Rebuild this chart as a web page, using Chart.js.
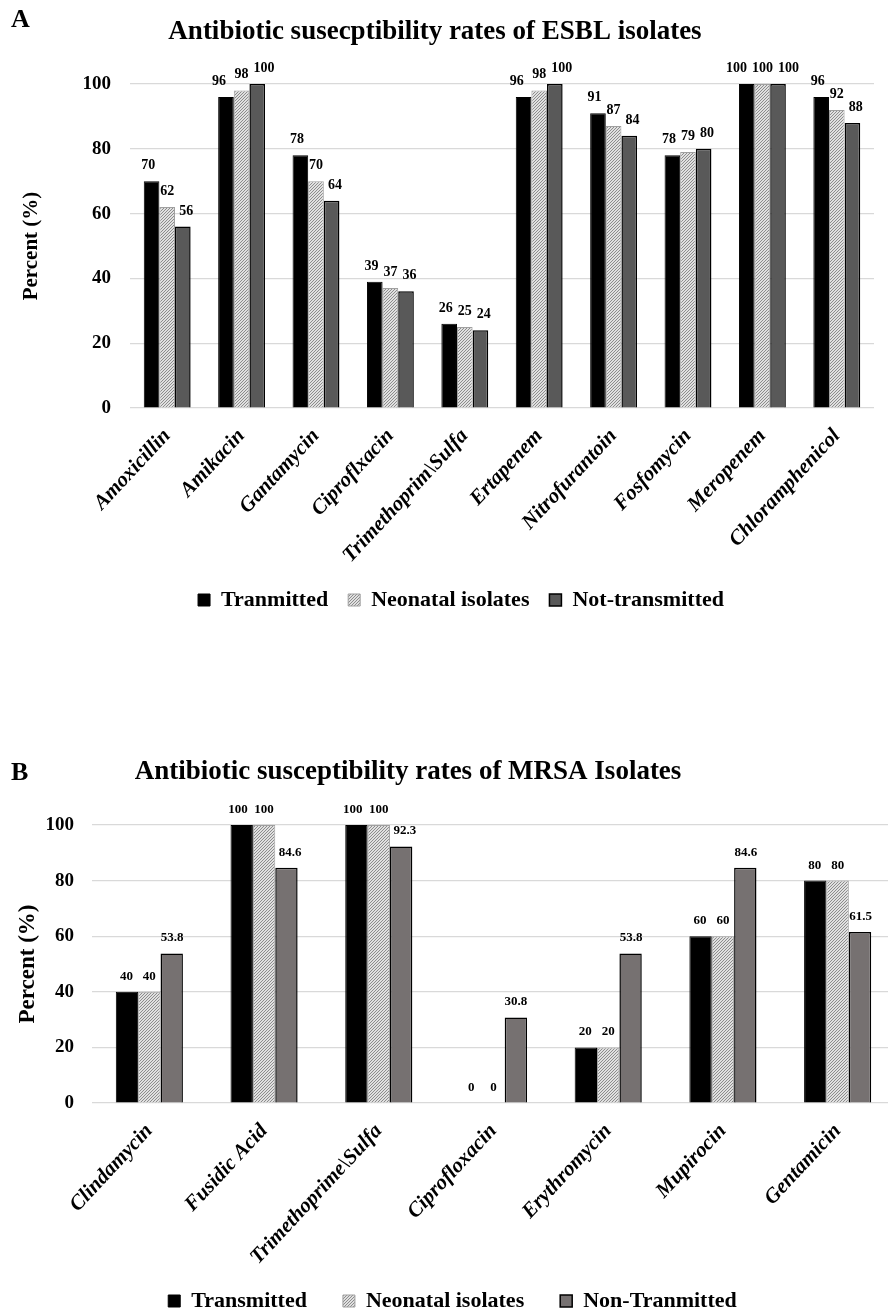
<!DOCTYPE html>
<html>
<head>
<meta charset="utf-8">
<script src="https://cdn.jsdelivr.net/npm/chart.js@4.4.1/dist/chart.umd.min.js"></script>
<style>
  html, body { margin: 0; padding: 0; background: #fff; overflow: hidden; width: 888px; height: 1314px; }
  canvas { position: absolute; left: 0; }
  #chartA { top: 0; }
  #chartB { top: 700px; }
</style>
</head>
<body>
<canvas id="chartA" width="888" height="625"></canvas>
<canvas id="chartB" width="896" height="630"></canvas>
<script>
// ---------- Panel A data ----------
const esblCategories = ['Amoxicillin', 'Amikacin', 'Gantamycin', 'Ciproflxacin', 'Trimethoprim\\Sulfa',
  'Ertapenem', 'Nitrofurantoin', 'Fosfomycin', 'Meropenem', 'Chloramphenicol'];
const esblTransmitted = [70, 96, 78, 39, 26, 96, 91, 78, 100, 96];
const esblNeonatal = [62, 98, 70, 37, 25, 98, 87, 79, 100, 92];
const esblNotTransmitted = [56, 100, 64, 36, 24, 100, 84, 80, 100, 88];
const esblSeriesNames = ['Tranmitted', 'Neonatal isolates', 'Not-transmitted'];

// ---------- Panel B data ----------
const mrsaCategories = ['Clindamycin', 'Fusidic Acid', 'Trimethoprime\\Sulfa', 'Ciprofloxacin',
  'Erythromycin', 'Mupirocin', 'Gentamicin'];
const mrsaTransmitted = [40, 100, 100, 0, 20, 60, 80];
const mrsaNeonatal = [40, 100, 100, 0, 20, 60, 80];
const mrsaNonTransmitted = [53.8, 84.6, 92.3, 30.8, 53.8, 84.6, 61.5];
const mrsaSeriesNames = ['Transmitted', 'Neonatal isolates', 'Non-Tranmitted'];

const yTicks = [0, 20, 40, 60, 80, 100];

const SERIF = '"Liberation Serif", "Times New Roman", serif';

function makeHatch(ctx) {
  const c = document.createElement('canvas');
  c.width = 3; c.height = 3;
  const x = c.getContext('2d');
  x.fillStyle = '#e0e0e0';
  x.fillRect(0, 0, 3, 3);
  x.fillStyle = '#8c8c8c';
  for (let i = 0; i < 3; i++) x.fillRect(2 - i, i, 1, 1);
  return ctx.createPattern(c, 'repeat');
}

// value labels above bars; labels of one category are spread apart if they would overlap
const valueLabels = {
  id: 'valueLabels',
  afterDatasetsDraw(chart, args, opts) {
    const ctx = chart.ctx;
    ctx.save();
    ctx.font = opts.font;
    ctx.fillStyle = '#000';
    ctx.textAlign = 'center';
    ctx.textBaseline = 'alphabetic';
    const nCat = chart.data.labels.length;
    const nDs = chart.data.datasets.length;
    for (let j = 0; j < nCat; j++) {
      const items = [];
      for (let i = 0; i < nDs; i++) {
        const bar = chart.getDatasetMeta(i).data[j];
        const txt = String(chart.data.datasets[i].data[j]);
        items.push({ x: bar.x, y: bar.y, txt, w: ctx.measureText(txt).width });
      }
      let need = 0;
      const have = items[1].x - items[0].x;
      for (let k = 0; k < items.length - 1; k++) {
        need = Math.max(need, items[k].w / 2 + items[k + 1].w / 2 + opts.gap);
      }
      if (need > have) {
        const mid = items[Math.floor(items.length / 2)].x;
        items.forEach((it, k) => { it.x = mid + (k - (items.length - 1) / 2) * need; });
      }
      items.forEach(it => ctx.fillText(it.txt, it.x, it.y - opts.offset));
    }
    ctx.restore();
  }
};

const panelTitle = {
  id: 'panelTitle',
  afterDraw(chart, args, opts) {
    const ctx = chart.ctx;
    ctx.save();
    ctx.fillStyle = '#000';
    ctx.textBaseline = 'middle';
    ctx.font = opts.font;
    ctx.textAlign = 'center';
    ctx.fillText(opts.text, opts.x, opts.y);
    ctx.textAlign = 'left';
    ctx.font = opts.letterFont;
    ctx.fillText(opts.letter, opts.letterX, opts.letterY);
    ctx.restore();
  }
};

function buildChart(canvasId, cfg) {
  const canvas = document.getElementById(canvasId);
  const ctx = canvas.getContext('2d');
  const hatch = makeHatch(ctx);
  return new Chart(ctx, {
    type: 'bar',
    data: {
      labels: cfg.categories,
      datasets: [
        { label: cfg.names[0], data: cfg.s1, backgroundColor: '#000000', borderColor: '#000000', borderWidth: 1 },
        { label: cfg.names[1], data: cfg.s2, backgroundColor: hatch, borderColor: '#a0a0a0', borderWidth: 1 },
        { label: cfg.names[2], data: cfg.s3, backgroundColor: cfg.darkColor, borderColor: '#000000', borderWidth: 1.5 }
      ]
    },
    options: {
      responsive: false,
      animation: false,
      devicePixelRatio: 1,
      layout: { padding: cfg.padding },
      datasets: { bar: { categoryPercentage: cfg.catPct, barPercentage: 1.0 } },
      scales: {
        x: {
          grid: { display: false },
          border: { display: false },
          ticks: {
            color: '#000',
            font: { family: SERIF, size: cfg.xFont, weight: 'bold', style: 'italic' },
            maxRotation: cfg.xRot, minRotation: cfg.xRot,
            padding: cfg.xPad,
            autoSkip: false
          },
          afterFit(scale) {
            scale.height = cfg.xHeight;
            // let long rotated category names run below the axis box instead of being cut off
            scale._computeLabelArea = function () { return undefined; };
          }
        },
        y: {
          min: 0, max: 100,
          afterBuildTicks(scale) { scale.ticks = yTicks.map(v => ({ value: v })); },
          grid: { color: '#d9d9d9', lineWidth: 1.2, drawTicks: false },
          border: { display: false },
          ticks: {
            color: '#000',
            font: { family: SERIF, size: 19, weight: 'bold' },
            padding: cfg.yPad
          },
          title: {
            display: true,
            text: 'Percent (%)',
            color: '#000',
            font: { family: SERIF, size: cfg.yTitleSize, weight: 'bold' },
            padding: { top: cfg.yTitlePad, bottom: 0 }
          },
          afterFit(scale) { scale.width = cfg.yWidth; }
        }
      },
      plugins: {
        legend: {
          position: 'bottom',
          labels: {
            color: '#000',
            font: { family: SERIF, size: 22, weight: 'bold' },
            boxWidth: 12, boxHeight: 12,
            padding: cfg.legendPad
          }
        },
        tooltip: { enabled: false },
        valueLabels: { font: 'bold ' + cfg.valFont + 'px ' + SERIF, offset: 12, gap: cfg.valGap },
        panelTitle: cfg.title
      }
    },
    plugins: [valueLabels, panelTitle]
  });
}

buildChart('chartA', {
  categories: esblCategories, names: esblSeriesNames,
  s1: esblTransmitted, s2: esblNeonatal, s3: esblNotTransmitted,
  darkColor: '#595959',
  padding: { top: 84, left: 48, right: 14, bottom: 4 },
  catPct: 0.63, xFont: 21, xRot: 47, xPad: 8, xHeight: 161,
  yPad: 19, yTitleSize: 21, yTitlePad: -28.6, yWidth: 82,
  legendPad: 20, valFont: 14, valGap: 5,
  title: { text: 'Antibiotic susecptibility rates of ESBL isolates', x: 435, y: 32,
    font: 'bold 27px ' + SERIF, letter: 'A', letterX: 11, letterY: 20, letterFont: 'bold 26px ' + SERIF }
});

buildChart('chartB', {
  categories: mrsaCategories, names: mrsaSeriesNames,
  s1: mrsaTransmitted, s2: mrsaNeonatal, s3: mrsaNonTransmitted,
  darkColor: '#767171',
  padding: { top: 125, left: 10, right: 1, bottom: 8 },
  catPct: 0.585, xFont: 21, xRot: 47, xPad: 8, xHeight: 151,
  yPad: 18, yTitleSize: 23, yTitlePad: 4, yWidth: 82,
  legendPad: 36, valFont: 13, valGap: 5,
  title: { text: 'Antibiotic susceptibility rates of MRSA Isolates', x: 408, y: 72,
    font: 'bold 27px ' + SERIF, letter: 'B', letterX: 11, letterY: 73, letterFont: 'bold 26px ' + SERIF }
});
</script>
</body>
</html>
